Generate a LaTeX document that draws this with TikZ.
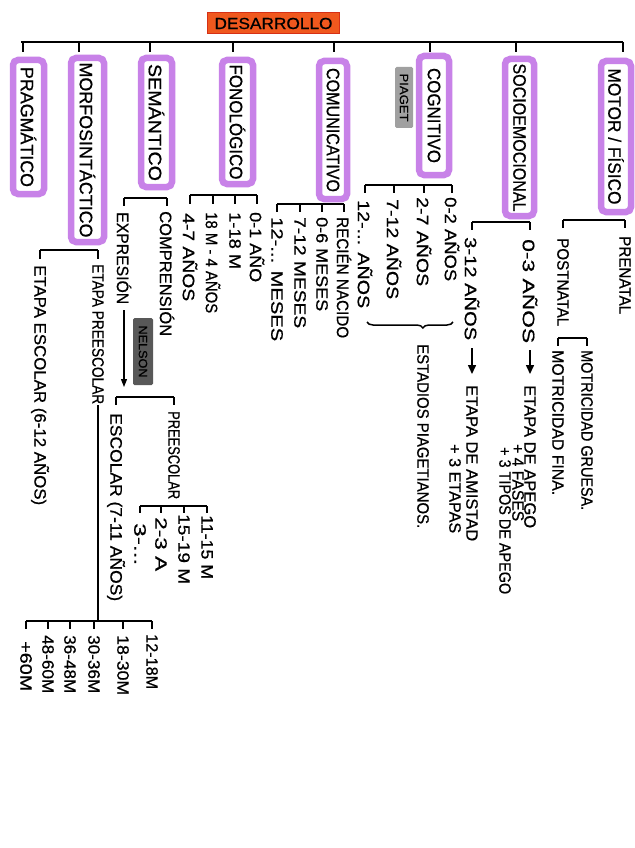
\documentclass[tikz,border=0pt]{standalone}
\usepackage{graphicx}
\usepackage{fontspec}
\setmainfont{Liberation Sans}[UprightFeatures={FakeBold=0.7}]
\usetikzlibrary{arrows.meta,decorations.pathreplacing}
\definecolor{vio}{RGB}{200,130,232}
\definecolor{tit}{RGB}{240,88,30}
\definecolor{titedge}{RGB}{214,48,22}
\definecolor{gpia}{RGB}{160,160,160}
\definecolor{gnel}{RGB}{88,88,88}
\newsavebox{\fitbox}
\newcommand{\fitlen}[2]{\sbox{\fitbox}{#2}\pgfmathsetmacro{\fitfac}{#1/(\wd\fitbox)}\scalebox{\fitfac}[1]{\usebox{\fitbox}}}
\newcommand{\catfont}{\fontsize{18}{18}\selectfont}
\newcommand{\leaffont}{\fontsize{16.5}{16.5}\selectfont}
\newcommand{\lblfont}{\fontsize{12}{12}\selectfont}
\newcommand{\titfont}{\fontsize{16}{16}\selectfont}
\begin{document}
\begin{tikzpicture}[x=1pt,y=-1pt,
  ln/.style={line width=1.5pt, black},
  cat/.style={rotate=-90, draw=vio, line width=6.5pt, rounded corners=5pt, inner sep=0pt, font=\catfont},
  leaf/.style={rotate=-90, anchor=west, inner sep=1pt, font=\leaffont},
  lbl/.style={rotate=-90, inner sep=0pt, font=\lblfont, rounded corners=1.5pt},
  arr/.style={ln, -{Triangle[length=9pt,width=8pt]}}]
\useasboundingbox[fill=white] (0,0) rectangle (634,848);

% title
\node[fill=tit, draw=titedge, line width=1pt, minimum width=132pt, minimum height=21pt, inner sep=0pt, font=\titfont] (title) at (273.5,23.5) {\fitlen{118}{DESARROLLO}};

% categories
\node[cat, minimum width=134pt, minimum height=31pt] (prag)  at (28.5,127)   {\fitlen{120}{PRAGMÁTICO}};
\node[cat, minimum width=184pt, minimum height=33pt] (morfo) at (87.5,150)   {\fitlen{175}{MORFOSINTÁCTICO}};
\node[cat, minimum width=129pt, minimum height=31pt] (sem)   at (156.5,122.5){\fitlen{117}{SEMÁNTICO}};
\node[cat, minimum width=124pt, minimum height=31pt] (fono)  at (237.5,122)  {\fitlen{115}{FONOLÓGICO}};
\node[cat, minimum width=138pt, minimum height=28pt] (comu)  at (333,130)    {\fitlen{124}{COMUNICATIVO}};
\node[cat, minimum width=119pt, minimum height=30pt] (cogn)  at (434,115.5)  {\fitlen{95}{COGNITIVO}};
\node[cat, minimum width=157pt, minimum height=29pt] (socio) at (519.5,137.5){\fitlen{148}{SOCIOEMOCIONAL}};
\node[cat, minimum width=151pt, minimum height=30pt] (motor) at (616,136.5)  {\fitlen{136}{MOTOR / FÍSICO}};

\node[lbl, fill=gpia, minimum width=61pt, minimum height=18pt] (piaget) at (404,97.5) {\fitlen{48}{PIAGET}};

% top bracket
\coordinate (bar0) at (0,42);
\draw[ln] (21,42) -- (623,42);
\foreach \x in {23,79,150,233,334,430,516,623} \draw[ln] (\x,42) -- (\x,52);

% MORFOSINTACTICO
\node[leaf] (etesc) at (40,264) {\fitlen{240}{ETAPA ESCOLAR (6-12 AÑOS)}};
\node[leaf] (etpre) at (98,263) {\fitlen{140}{ETAPA PREESCOLAR}};
\coordinate (bm) at (0,250);
\draw[ln] (etesc.west |- bm) -- (etpre.west |- bm);
\foreach \c in {etesc,etpre} \draw[ln] (\c.west |- bm) -- ++(0,9);

\node[leaf] (m1) at (152,633) {\fitlen{55}{12-18M}};
\node[leaf] (m2) at (123,634) {\fitlen{60}{18-30M}};
\node[leaf] (m3) at (94,634)  {\fitlen{58}{30-36M}};
\node[leaf] (m4) at (70,634)  {\fitlen{58}{36-48M}};
\node[leaf] (m5) at (48,634)  {\fitlen{58}{48-60M}};
\node[leaf] (m6) at (26,640)  {\fitlen{50}{+60M}};
\coordinate (bm2) at (0,621);
\draw[ln] (etpre.east) -- (etpre.east |- bm2);
\draw[ln] (m6.west |- bm2) -- (m1.west |- bm2);
\foreach \c in {m1,m2,m3,m4,m5,m6} \draw[ln] (\c.west |- bm2) -- ++(0,8);

% SEMANTICO
\node[leaf] (expr)  at (124,211) {\fitlen{92}{EXPRESIÓN}};
\node[leaf] (compr) at (167,210) {\fitlen{125}{COMPRENSIÓN}};
\coordinate (bs) at (0,198);
\draw[ln] (expr.west |- bs) -- (compr.west |- bs);
\foreach \c in {expr,compr} \draw[ln] (\c.west |- bs) -- ++(0,8);
\coordinate (arrend) at (124,387);
\draw[ln, line width=1.2pt, -{Triangle[length=8pt,width=6pt]}, shorten <=5pt] (expr.east) -- (arrend);
\node[lbl, fill=gnel, minimum width=67pt, minimum height=20pt] (nelson) at (143,351.5) {\fitlen{52}{NELSON}};

\node[leaf] (escol) at (116,412) {\fitlen{188}{ESCOLAR (7-11 AÑOS)}};
\node[leaf] (presc) at (174,410) {\fitlen{88}{PREESCOLAR}};
\coordinate (bs2) at (0,397);
\draw[ln] (escol.west |- bs2) -- (presc.west |- bs2);
\foreach \c in {escol,presc} \draw[ln] (\c.west |- bs2) -- ++(0,8);

\node[leaf] (p1) at (207,514) {\fitlen{64}{11-15 M}};
\node[leaf] (p2) at (184,513) {\fitlen{70}{15-19 M}};
\node[leaf] (p3) at (161,516) {\fitlen{54}{2-3 A}};
\node[leaf] (p4) at (140,522) {\fitlen{42}{3-...}};
\coordinate (bs3) at (0,506);
\draw[ln] (p4.west |- bs3) -- (p1.west |- bs3);
\foreach \c in {p1,p2,p3,p4} \draw[ln] (\c.west |- bs3) -- ++(0,7);

% FONOLOGICO
\node[leaf] (f1) at (257,211) {\fitlen{70}{0-1 AÑO}};
\node[leaf] (f2) at (235,211) {\fitlen{57}{1-18 M}};
\node[leaf] (f3) at (213,211) {\fitlen{101}{18 M - 4 AÑOS}};
\node[leaf] (f4) at (190,212) {\fitlen{88}{4-7 AÑOS}};
\coordinate (bf) at (0,195);
\draw[ln] (f4.west |- bf) -- (f1.west |- bf);
\foreach \c in {f1,f2,f3,f4} \draw[ln] (\c.west |- bf) -- ++(0,9);

% COMUNICATIVO
\node[leaf] (c1) at (344,216) {\fitlen{121}{RECIÉN NACIDO}};
\node[leaf] (c2) at (322,216) {\fitlen{94}{0-6 MESES}};
\node[leaf] (c3) at (300,216) {\fitlen{111}{7-12 MESES}};
\node[leaf] (c4) at (277,216) {\fitlen{124}{12-... MESES}};
\coordinate (bc) at (0,204);
\draw[ln] (c4.west |- bc) -- (c1.west |- bc);
\foreach \c in {c1,c2,c3,c4} \draw[ln] (\c.west |- bc) -- ++(0,8);

% COGNITIVO
\node[leaf] (g1) at (452,196) {\fitlen{84}{0-2 AÑOS}};
\node[leaf] (g2) at (424,196) {\fitlen{89}{2-7 AÑOS}};
\node[leaf] (g3) at (394,198) {\fitlen{100}{7-12 AÑOS}};
\node[leaf] (g4) at (365,199) {\fitlen{108}{12-... AÑOS}};
\coordinate (bg) at (0,185);
\draw[ln] (g4.west |- bg) -- (g1.west |- bg);
\foreach \c in {g1,g2,g3,g4} \draw[ln] (\c.west |- bg) -- ++(0,8);
\draw[ln, decorate, decoration={brace, amplitude=6pt, aspect=0.35}] (453,322) -- (367,322);
\node[leaf] (estad) at (423,343) {\fitlen{184}{ESTADIOS PIAGETIANOS.}};

% SOCIOEMOCIONAL
\node[leaf] (s1) at (472,236) {\fitlen{103}{3-12 AÑOS}};
\node[leaf] (s2) at (530,238) {\fitlen{104}{0-3 AÑOS}};
\coordinate (bso) at (0,222);
\draw[ln] (s1.west |- bso) -- (s2.west |- bso);
\foreach \c in {s1,s2} \draw[ln] (\c.west |- bso) -- ++(0,8);
\node[leaf] (amis)  at (472,384) {\fitlen{156}{ETAPA DE AMISTAD}};
\node[leaf] (etap)  at (455,443) {\fitlen{89}{+ 3 ETAPAS}};
\node[leaf] (apego) at (530,384) {\fitlen{143}{ETAPA DE APEGO}};
\node[leaf] (fases) at (518,443) {\fitlen{77}{+ 4 FASES}};
\node[leaf] (tipos) at (505,446) {\fitlen{147}{+ 3 TIPOS DE APEGO}};
\draw[arr, shorten <=7pt, shorten >=10pt] (s1.east) -- (amis.west);
\draw[arr, shorten <=6pt, shorten >=10pt] (s2.east) -- (apego.west);

% MOTOR
\node[leaf] (pren) at (625,235) {\fitlen{78}{PRENATAL}};
\node[leaf] (post) at (563,237) {\fitlen{88}{POSTNATAL}};
\coordinate (bmo) at (0,220);
\draw[ln] (post.west |- bmo) -- (pren.west |- bmo);
\foreach \c in {pren,post} \draw[ln] (\c.west |- bmo) -- ++(0,8);
\node[leaf] (grue) at (587,349) {\fitlen{160}{MOTRICIDAD GRUESA.}};
\node[leaf] (fina) at (558,349) {\fitlen{145}{MOTRICIDAD FINA.}};
\coordinate (bmo2) at (0,338);
\draw[ln] (fina.west |- bmo2) -- (grue.west |- bmo2);
\foreach \c in {grue,fina} \draw[ln] (\c.west |- bmo2) -- ++(0,8);
\end{tikzpicture}
\end{document}
